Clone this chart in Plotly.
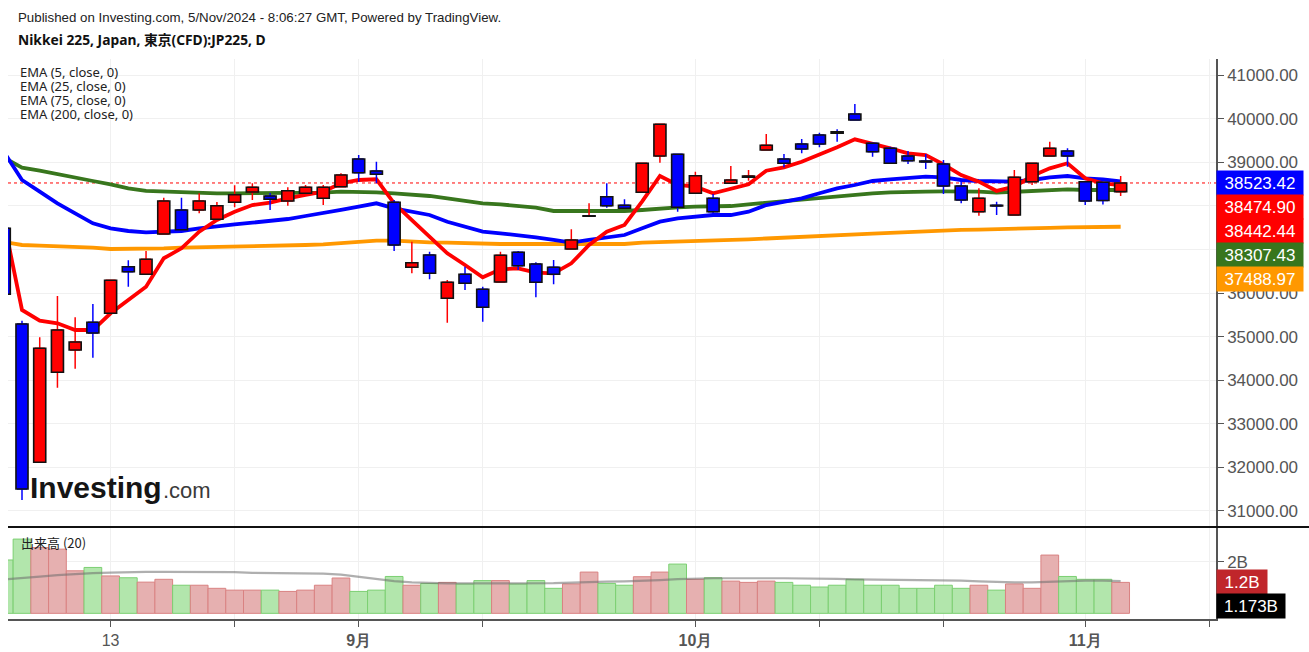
import plotly.graph_objects as go

# trading days (index = x position on the chart)
dates = ["08-02", "08-05", "08-06", "08-07", "08-08", "08-09", "08-13", "08-14", "08-15", "08-16",
         "08-19", "08-20", "08-21", "08-22", "08-23", "08-26", "08-27", "08-28", "08-29", "08-30",
         "09-02", "09-03", "09-04", "09-05", "09-06", "09-09", "09-10", "09-11", "09-12", "09-13",
         "09-17", "09-18", "09-19", "09-20", "09-24", "09-25", "09-26", "09-27", "09-30", "10-01",
         "10-02", "10-03", "10-04", "10-07", "10-08", "10-09", "10-10", "10-11", "10-15", "10-16",
         "10-17", "10-18", "10-21", "10-22", "10-23", "10-24", "10-25", "10-28", "10-29", "10-30",
         "10-31", "11-01", "11-04", "11-05"]

opens = [37484, 35289, 32117, 34181, 34693, 35328, 35534, 36603, 36429, 37353,
         37904, 37904, 37690, 38080, 38317, 38225, 38110, 38287, 38172, 38438,
         39073, 38798, 38080, 36589, 36872, 35878, 36429, 36085, 36252, 36933,
         36665, 36589, 37009, 37760, 38209, 38011, 38310, 39142, 39181, 38287,
         38172, 38516, 38654, 39280, 39073, 39417, 39624, 39700, 40106, 39433,
         39319, 39142, 39028, 38959, 38454, 37865, 38010, 37789, 38553, 39142,
         39257, 38553, 38540, 38325]
highs = [37550, 35365, 34984, 35931, 35443, 35748, 36300, 36750, 36963, 38186,
         38186, 38287, 38087, 38470, 38516, 38294, 38424, 38477, 38477, 38745,
         39165, 39011, 38133, 37177, 36947, 36298, 36603, 36145, 36947, 36963,
         36704, 36757, 37461, 38057, 38516, 38149, 38990, 39880, 39190, 38782,
         38271, 38913, 38821, 39647, 39188, 39532, 39677, 39755, 40335, 39440,
         39356, 39257, 39188, 39050, 38553, 38401, 38094, 38821, 38990, 39470,
         39319, 38560, 38560, 38683]
lows = [35900, 31252, 32100, 33828, 34264, 34516, 35500, 36145, 36420, 37340,
        37440, 37828, 37680, 37966, 38133, 37904, 38002, 38280, 38018, 38430,
        38553, 38516, 36963, 36452, 36314, 35319, 36069, 35342, 36240, 36528,
        35901, 36199, 37000, 37750, 37956, 37930, 38300, 38989, 37865, 38280,
        37766, 38510, 38576, 39270, 38883, 39204, 39342, 39470, 39960, 39126,
        38970, 38959, 38844, 38271, 38057, 37773, 37789, 37780, 38477, 39135,
        38897, 38018, 38030, 38225]
closes = [35970, 31505, 34732, 35151, 34876, 35083, 36291, 36489, 36773, 38110,
          37452, 38110, 38002, 38255, 38424, 38149, 38346, 38424, 38424, 38706,
          38759, 38722, 37101, 36695, 36452, 36245, 36222, 35672, 36865, 36626,
          36245, 36429, 37216, 37773, 38002, 37943, 38975, 39869, 37966, 38690,
          37865, 38592, 38683, 39388, 38975, 39303, 39417, 39663, 39968, 39241,
          38975, 39034, 39005, 38454, 38133, 38172, 37995, 38654, 38975, 39319,
          39142, 38110, 38120, 38523.42]

# volume in billions
volumes = [2.07, 2.88, 2.55, 2.49, 1.65, 1.78, 1.45, 1.38, 1.21, 1.32,
           1.09, 1.09, 0.97, 0.90, 0.90, 0.90, 0.85, 0.90, 1.09, 1.37,
           0.85, 0.90, 1.43, 1.09, 1.16, 1.20, 1.14, 1.27, 1.27, 1.14,
           1.27, 0.97, 1.14, 1.60, 1.16, 1.09, 1.42, 1.60, 1.91, 1.32,
           1.38, 1.25, 1.20, 1.25, 1.20, 1.09, 1.02, 1.09, 1.32, 1.09,
           1.09, 0.97, 0.97, 1.09, 0.97, 1.09, 0.90, 1.14, 0.97, 2.26,
           1.43, 1.32, 1.32, 1.20]
vol_ma20 = [1.32, 1.36, 1.42, 1.48, 1.53, 1.56, 1.58, 1.60, 1.61, 1.61,
            1.61, 1.61, 1.61, 1.60, 1.57, 1.56, 1.55, 1.55, 1.54, 1.50,
            1.42, 1.32, 1.25, 1.20, 1.17, 1.16, 1.16, 1.16, 1.16, 1.16,
            1.16, 1.17, 1.19, 1.22, 1.23, 1.24, 1.26, 1.29, 1.33, 1.35,
            1.36, 1.36, 1.35, 1.36, 1.36, 1.36, 1.35, 1.34, 1.32, 1.31,
            1.30, 1.29, 1.29, 1.29, 1.27, 1.24, 1.21, 1.20, 1.20, 1.22,
            1.26, 1.27, 1.27, 1.25]

ema5 = [37600, 35610, 35365, 35305, 35151, 35151, 35534, 35840, 36145, 36796,
        37025, 37406, 37674, 37865, 38018, 38071, 38172, 38248, 38324, 38516,
        38592, 38608, 38057, 37674, 37291, 36910, 36642, 36360, 36543, 36566,
        36467, 36452, 36681, 37101, 37406, 37560, 38100, 38683, 38477, 38438,
        38287, 38401, 38493, 38805, 38883, 39011, 39165, 39342, 39525, 39433,
        39319, 39204, 39165, 38950, 38706, 38553, 38340, 38438, 38683, 38860,
        38975, 38631, 38516, 38474.90]
ema25 = [39220, 38592, 38324, 38057, 37828, 37598, 37484, 37422, 37392, 37406,
         37422, 37484, 37537, 37576, 37613, 37659, 37697, 37766, 37828, 37904,
         37980, 38057, 37943, 37865, 37789, 37635, 37521, 37406, 37369, 37330,
         37278, 37216, 37155, 37216, 37278, 37330, 37484, 37635, 37713, 37750,
         37789, 37789, 37865, 38018, 38094, 38172, 38287, 38401, 38477, 38569,
         38608, 38644, 38668, 38654, 38592, 38569, 38553, 38553, 38592, 38654,
         38683, 38631, 38608, 38560]
ema75 = [39100, 38874, 38807, 38723, 38645, 38569, 38493, 38401, 38340, 38324,
         38302, 38287, 38287, 38287, 38287, 38287, 38302, 38302, 38302, 38324,
         38324, 38310, 38287, 38264, 38225, 38172, 38118, 38057, 38034, 38004,
         37957, 37881, 37881, 37881, 37881, 37881, 37904, 37943, 37966, 37980,
         37980, 37995, 38034, 38071, 38110, 38149, 38186, 38225, 38264, 38287,
         38310, 38324, 38324, 38330, 38330, 38324, 38302, 38324, 38347, 38362,
         38378, 38362, 38362, 38362]
ema200 = [37170, 37101, 37086, 37078, 37063, 37040, 37009, 37009, 37017, 37025,
          37040, 37048, 37048, 37048, 37063, 37078, 37086, 37101, 37117, 37140,
          37177, 37200, 37200, 37177, 37163, 37155, 37140, 37124, 37124, 37124,
          37124, 37124, 37124, 37124, 37124, 37124, 37155, 37165, 37175, 37190,
          37200, 37215, 37230, 37250, 37265, 37280, 37300, 37320, 37340, 37360,
          37380, 37400, 37420, 37440, 37450, 37455, 37460, 37470, 37480, 37495,
          37505, 37510, 37515, 37520]

tick_idx = [6, 13, 20, 27, 39, 46, 53, 61, 68]
tick_text = ["13", "", "<b>9月</b>", "", "<b>10月</b>", "", "", "<b>11月</b>", ""]
price_ticks = [31000, 32000, 33000, 34000, 35000, 36000, 37000, 38000, 39000, 40000, 41000]
price_tags = ["38523.42", "38474.90", "38442.44", "38307.43", "37488.97"]
tag_colors = ["#0000ff", "#ff0000", "#ff0000", "#38761d", "#ff9800"]
vol_tags = ["1.2B", "1.173B"]
ema_labels = ["EMA (5, close, 0)", "EMA (25, close, 0)", "EMA (75, close, 0)", "EMA (200, close, 0)"]

x = list(range(len(dates)))
up = [c >= o for o, c in zip(opens, closes)]
body_base = [min(o, c) for o, c in zip(opens, closes)]
body_h = [max(abs(c - o), 12) for o, c in zip(opens, closes)]
body_col = ["#ff0000" if u else "#0000ff" for u in up]
vol_fill = ["#e6b0b0" if u else "#b2e6ac" for u in up]
vol_line = ["#d98282" if u else "#7ccf72" for u in up]

price_range = [30642, 41367]
x_range = [0.21, 68.38]

fig = go.Figure()

# EMAs (base layer, candles drawn over them)
for vals, col in [(ema200, "#ff9800"), (ema75, "#38761d"), (ema25, "#0000ff"), (ema5, "#ff0000")]:
    fig.add_trace(go.Scatter(x=x, y=vals, mode="lines", line=dict(color=col, width=3.8),
                             xaxis="x", yaxis="y", showlegend=False, hoverinfo="skip"))

# wicks
fig.add_trace(go.Candlestick(
    x=x, open=opens, high=highs, low=lows, close=closes,
    increasing=dict(line=dict(color="#ff0000", width=1.5), fillcolor="#ff0000"),
    decreasing=dict(line=dict(color="#0000ff", width=1.5), fillcolor="#0000ff"),
    whiskerwidth=0, xaxis="x", yaxis="y3", showlegend=False))

# bodies with dark outline
fig.add_trace(go.Bar(x=x, y=body_h, base=body_base, width=0.68,
                     marker=dict(color=body_col, line=dict(color="#111111", width=1.6)),
                     xaxis="x", yaxis="y4", showlegend=False, hoverinfo="skip"))

# volume
fig.add_trace(go.Bar(x=x, y=volumes, width=1.0,
                     marker=dict(color=vol_fill, line=dict(color=vol_line, width=1)),
                     xaxis="x2", yaxis="y2", showlegend=False))
fig.add_trace(go.Scatter(x=x, y=vol_ma20, mode="lines",
                         line=dict(color="rgba(110,110,110,0.55)", width=2.2),
                         xaxis="x2", yaxis="y2", showlegend=False, hoverinfo="skip"))

axis_font = dict(family="Liberation Sans, Arial", size=17, color="#555555")
grid = "#f0f0f0"

fig.update_layout(
    width=1309, height=652,
    margin=dict(l=8, r=93, t=59, b=33, autoexpand=False),
    plot_bgcolor="white", paper_bgcolor="white",
    font=dict(family="Liberation Sans, Arial", size=16, color="#555555"),
    barmode="overlay",
    xaxis=dict(domain=[0, 1], anchor="y", range=x_range, tickvals=tick_idx,
               showticklabels=False, ticks="", showgrid=True, gridcolor=grid,
               zeroline=False, automargin=False, rangeslider=dict(visible=False)),
    yaxis=dict(domain=[0.165, 1], anchor="x", side="right", range=price_range,
               tickvals=price_ticks, ticktext=["%.2f" % v for v in price_ticks],
               tickfont=axis_font, ticks="outside", ticklen=6, tickcolor="#555555",
               showline=True, linecolor="#555555", linewidth=1.5, automargin=False,
               showgrid=True, gridcolor=grid, zeroline=False),
    yaxis3=dict(overlaying="y", anchor="x", range=price_range, visible=False),
    yaxis4=dict(overlaying="y", anchor="x", range=price_range, visible=False),
    xaxis2=dict(domain=[0, 1], anchor="y2", matches="x", range=x_range,
                tickvals=tick_idx, ticktext=tick_text,
                tickfont=dict(family="Liberation Sans, Arial", size=16, color="#555555"),
                ticks="outside", ticklen=6, tickcolor="#555555", automargin=False,
                showline=True, linecolor="#555555", linewidth=2,
                showgrid=True, gridcolor=grid, zeroline=False),
    yaxis2=dict(domain=[0, 0.1625], anchor="x2", side="right", range=[-0.22, 3.31],
                tickvals=[2], ticktext=["2B"], tickfont=axis_font,
                ticks="outside", ticklen=6, tickcolor="#555555", automargin=False,
                showline=True, linecolor="#555555", linewidth=1.5,
                showgrid=True, gridcolor=grid, zeroline=False),
)

# last price dotted line
fig.add_shape(type="line", xref="x domain", x0=0, x1=1, yref="y", y0=closes[-1], y1=closes[-1],
              line=dict(color="#ff0000", width=1, dash="dot"), layer="below")
# pane separator
fig.add_shape(type="line", xref="paper", x0=0, x1=1.08, yref="paper", y0=0.1643, y1=0.1643,
              line=dict(color="#111111", width=2))

ann = []
ann.append(dict(text="Published on Investing.com, 5/Nov/2024 - 8:06:27 GMT, Powered by TradingView.",
                x=0.0066, y=1.075, font=dict(size=13.3, color="#222222", family="Liberation Sans, Arial")))
ann.append(dict(text="<b>Nikkei 225, Japan, 東京(CFD):JP225, D</b>",
                x=0.0066, y=1.034, font=dict(size=13.8, color="#111111", family="Noto Sans, Noto Sans CJK JP")))
for k, lab in enumerate(ema_labels):
    ann.append(dict(text=lab, x=0.0083, y=0.977 - 0.025 * k,
                    font=dict(size=13, color="#222222", family="Noto Sans")))
ann.append(dict(text="出来高 (20)", x=0.0091, y=0.136,
                font=dict(size=13, color="#222222", family="Noto Sans CJK JP")))
for a in ann:
    a.update(xref="paper", yref="paper", xanchor="left", yanchor="middle", showarrow=False)
    fig.add_annotation(**a)

# logo
fig.add_annotation(text="<b>Investing</b>", xref="paper", yref="paper", x=0.0166, y=0.234,
                   xanchor="left", yanchor="middle", showarrow=False,
                   font=dict(size=30, color="#151515", family="Liberation Sans, Arial"))
fig.add_annotation(text=".com", xref="paper", yref="paper", x=0.1265, y=0.229,
                   xanchor="left", yanchor="middle", showarrow=False,
                   font=dict(size=22, color="#3a3a3a", family="Liberation Sans, Arial"))

# value tags on the price axis
for k, (t, c) in enumerate(zip(price_tags, tag_colors)):
    fig.add_annotation(text=t, xref="paper", x=1.0, yref="y", y=closes[-1], yshift=-24 * k,
                       xanchor="left", yanchor="middle", showarrow=False, bgcolor=c,
                       width=82, height=20, borderpad=2, align="center",
                       font=dict(size=17, color="white", family="Liberation Sans, Arial"))

# volume tags
fig.add_annotation(text=vol_tags[0], xref="paper", x=1.0, yref="y2", y=volumes[-1],
                   xanchor="left", yanchor="middle", showarrow=False, bgcolor="#c0262b",
                   width=46, height=20, borderpad=2, align="center",
                   font=dict(size=17, color="white", family="Liberation Sans, Arial"))
fig.add_annotation(text=vol_tags[1], xref="paper", x=1.0, yref="y2", y=volumes[-1], yshift=-24,
                   xanchor="left", yanchor="middle", showarrow=False, bgcolor="#000000",
                   width=64, height=20, borderpad=2, align="center",
                   font=dict(size=17, color="white", family="Liberation Sans, Arial"))

fig.write_html("out.html", config={"displayModeBar": False},
               post_script="document.body.style.margin='0';document.body.style.overflow='hidden';")
